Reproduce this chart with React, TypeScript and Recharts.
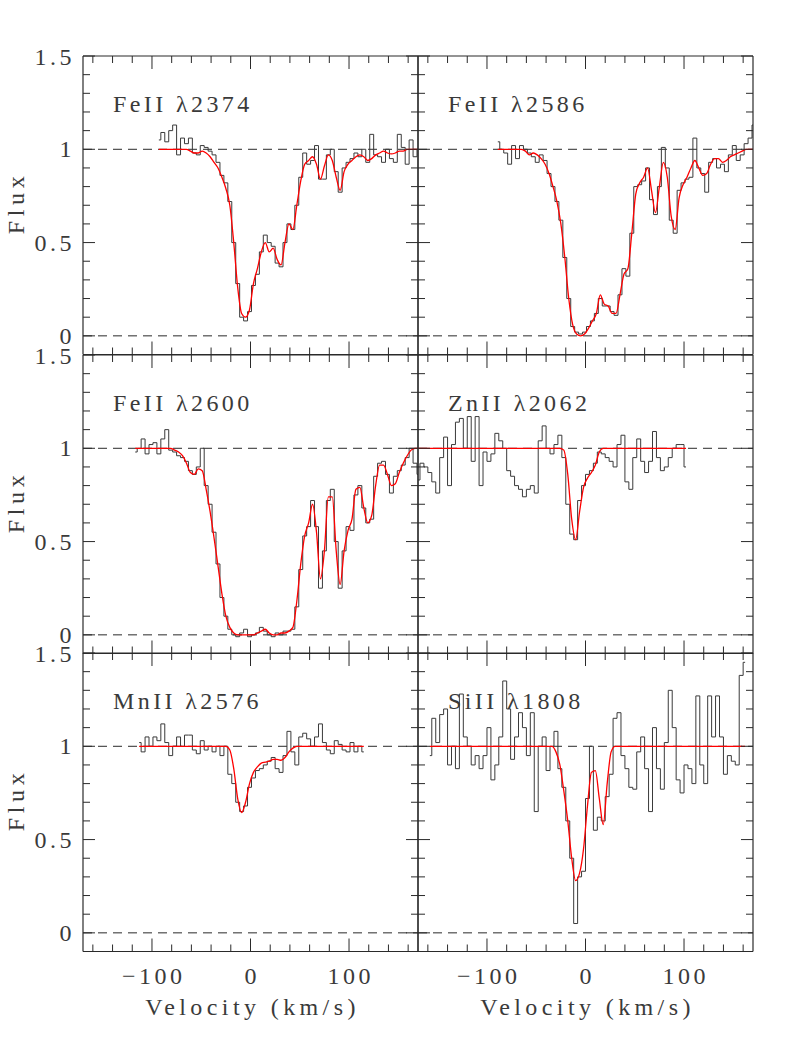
import { LineChart, Line, XAxis, YAxis, ReferenceLine } from 'recharts';

const INK = '#2a2a2a';
const DATA = '#3a3a3a';
const FIT = '#ff0000';
const TEXT = '#3a3a3a';
const FONT = '"Liberation Serif", "Times New Roman", serif';

const PLOT_W = 335;
const PLOT_H = 298.5;
const COL_X = [83, 418];
const ROW_Y = [56, 354.5, 653];
const PAD = 10;

const X_TICKS = [-160, -140, -120, -100, -80, -60, -40, -20, 0, 20, 40, 60, 80, 100, 120, 140, 160];
const Y_TICKS = [0, 0.1, 0.2, 0.3, 0.4, 0.5, 0.6, 0.7, 0.8, 0.9, 1, 1.1, 1.2, 1.3, 1.4, 1.5];
const BIN = 4; // km/s per pixel

// FeII 2374
const fe2374Start = -93;
const fe2374Flux = [
  1.05, 1.09, 1.04, 1.1, 1.13, 0.97, 1.06, 1.03, 1.06, 0.98,
  0.97, 1.02, 1.01, 0.99, 0.97, 0.93, 0.86, 0.82, 0.72, 0.5,
  0.28, 0.1, 0.08, 0.13, 0.27, 0.33, 0.45, 0.54, 0.5, 0.48,
  0.39, 0.37, 0.5, 0.6, 0.57, 0.7, 0.85, 0.98, 0.92, 0.94,
  1.02, 0.84, 0.84, 0.97, 1.0, 0.88, 0.77, 0.9, 0.93, 0.95,
  0.98, 0.96, 1.0, 0.93, 1.08, 0.97, 0.96, 0.93, 1.0, 0.95,
  0.93, 1.08, 1.01, 0.92, 1.05, 0.96, 1.0,
];
const fe2374Fit = [
  1.0, 1.0, 1.0, 1.0, 1.0, 1.0, 1.0, 1.0, 0.99, 0.98,
  0.98, 0.99, 0.98, 0.96, 0.93, 0.9, 0.85, 0.79, 0.7, 0.5,
  0.26, 0.12, 0.1, 0.14, 0.28, 0.36, 0.45, 0.5, 0.45, 0.47,
  0.41, 0.38, 0.5, 0.6, 0.57, 0.7, 0.83, 0.92, 0.94, 0.96,
  0.92, 0.84, 0.91, 0.97, 0.94, 0.85, 0.78, 0.88, 0.92, 0.94,
  0.96, 0.97, 0.96, 0.94, 0.95, 0.97, 0.98, 0.99, 0.98, 0.975,
  0.98, 0.99, 0.99, 1.0, 1.0, 1.0, 1.0,
];

// FeII 2586
const fe2586Start = -89;
const fe2586Flux = [
  1.04, 1.0, 0.98, 0.92, 1.02, 0.95, 1.02, 1.0, 0.98, 0.96,
  0.93, 0.97, 0.94, 0.87, 0.8, 0.72, 0.62, 0.42, 0.2, 0.05,
  0.02, 0.01, 0.02, 0.05, 0.08, 0.12, 0.2, 0.16, 0.16, 0.13,
  0.11, 0.22, 0.36, 0.32, 0.55, 0.8, 0.81, 0.83, 0.9, 0.73,
  0.65, 0.8, 1.01, 0.9, 0.62, 0.55, 0.78, 0.82, 0.84, 0.85,
  1.06, 0.9, 0.87, 0.77, 0.93, 0.95, 0.9, 0.92, 0.88, 0.97,
  1.02, 0.94, 0.97, 1.03, 1.06, 1.13,
];
const fe2586Fit = [
  1.0, 1.0, 1.0, 1.0, 1.0, 1.0, 1.0, 0.99, 0.97, 0.98,
  0.97, 0.95, 0.92, 0.87, 0.8, 0.72, 0.6, 0.42, 0.2, 0.06,
  0.01, 0.0, 0.01, 0.04, 0.08, 0.12, 0.22, 0.17, 0.16, 0.12,
  0.12, 0.22, 0.33, 0.36, 0.55, 0.76, 0.82, 0.85, 0.9, 0.78,
  0.66, 0.8, 0.93, 0.85, 0.64, 0.57, 0.74, 0.81, 0.85, 0.9,
  0.94, 0.9, 0.86, 0.87, 0.92, 0.95, 0.95, 0.93, 0.94, 0.96,
  0.97, 0.98, 0.99, 1.0, 1.0, 1.0,
];

// FeII 2600
const fe2600Start = -117;
const fe2600Flux = [
  0.98, 1.0, 1.05, 0.97, 1.02, 1.03, 0.97, 1.05, 1.1, 0.99,
  0.98, 0.96, 0.95, 0.93, 0.88, 0.86, 0.9, 1.0, 0.8, 0.7,
  0.55, 0.38, 0.2, 0.1, 0.03, 0.0, -0.01, 0.01, 0.03, -0.01,
  0.0, 0.01, 0.04, 0.02, 0.0, -0.01, 0.01, 0.0, 0.02, 0.02,
  0.03, 0.15, 0.35, 0.53, 0.58, 0.72, 0.58, 0.25, 0.45, 0.72,
  0.78, 0.5, 0.25, 0.45, 0.58, 0.56, 0.75, 0.8, 0.68, 0.6,
  0.62, 0.85, 0.92, 0.93, 0.86, 0.76, 0.85, 0.88, 0.91, 0.95,
  1.0, 0.92, 0.86,
];
const fe2600Fit = [
  1.0, 1.0, 1.0, 1.0, 1.0, 1.0, 1.0, 1.0, 1.0, 1.0,
  0.99, 0.98, 0.96, 0.92, 0.87, 0.86, 0.89, 0.88, 0.78, 0.66,
  0.52, 0.37, 0.22, 0.1, 0.04, 0.01, 0.0, 0.0, 0.0, 0.0,
  0.0, 0.01, 0.02, 0.03, 0.01, 0.0, 0.0, 0.01, 0.01, 0.02,
  0.04, 0.18, 0.38, 0.53, 0.6, 0.7, 0.55, 0.3, 0.45, 0.74,
  0.74, 0.45, 0.27, 0.45, 0.56, 0.62, 0.78, 0.79, 0.68, 0.6,
  0.64, 0.8, 0.91, 0.91, 0.86, 0.8, 0.81, 0.87, 0.92, 0.96,
  0.99, 1.0, 1.0,
];

// ZnII 2062
const zn2062Start = -170;
const zn2062Flux = [
  0.83, 0.92, 0.9, 0.87, 0.82, 0.76, 0.95, 1.06, 0.8, 1.02,
  1.14, 1.16, 1.0, 1.17, 0.93, 1.17, 0.8, 0.98, 0.93, 0.97,
  1.08, 1.04, 1.0, 0.88, 0.85, 0.8, 0.78, 0.74, 0.78, 0.8,
  0.76, 1.04, 1.12, 1.0, 0.97, 1.02, 1.07, 0.95, 0.7, 0.54,
  0.51, 0.72, 0.8, 0.86, 0.88, 0.92, 0.98, 0.97, 0.95, 0.93,
  0.9, 1.02, 1.07, 0.82, 0.78, 0.95, 1.05, 0.93, 0.87, 0.93,
  1.09, 0.95, 0.88, 0.9, 0.95, 1.0, 1.02, 1.02, 0.9,
];
const zn2062Fit = [
  1.0, 1.0, 1.0, 1.0, 1.0, 1.0, 1.0, 1.0, 1.0, 1.0,
  1.0, 1.0, 1.0, 1.0, 1.0, 1.0, 1.0, 1.0, 1.0, 1.0,
  1.0, 1.0, 1.0, 1.0, 1.0, 1.0, 1.0, 1.0, 1.0, 1.0,
  1.0, 1.0, 1.0, 1.0, 1.0, 1.0, 1.0, 0.99, 0.86, 0.62,
  0.51, 0.66, 0.79, 0.84, 0.87, 0.91, 0.98, 1.0, 1.0, 1.0,
  1.0, 1.0, 1.0, 1.0, 1.0, 1.0, 1.0, 1.0, 1.0, 1.0,
  1.0, 1.0, 1.0, 1.0, 1.0, 1.0, 1.0, 1.0, 1.0,
];

// MnII 2576
const mn2576Start = -113;
const mn2576Flux = [
  1.02, 0.97, 1.05, 1.0, 1.05, 1.03, 1.12, 1.02, 0.95, 1.0,
  1.05, 1.0, 1.06, 1.06, 0.98, 0.96, 1.03, 0.98, 1.0, 0.97,
  1.0, 0.95, 1.0, 0.85, 0.8, 0.7, 0.65, 0.68, 0.78, 0.83,
  0.87, 0.88, 0.9, 0.92, 0.94, 0.88, 0.86, 0.95, 1.08, 0.97,
  0.9, 1.05, 1.07, 1.04, 1.0, 1.05, 1.12, 1.02, 0.98, 0.96,
  1.03, 1.01, 0.98, 0.97, 1.02, 0.97, 1.0, 0.97,
];
const mn2576Fit = [
  1.0, 1.0, 1.0, 1.0, 1.0, 1.0, 1.0, 1.0, 1.0, 1.0,
  1.0, 1.0, 1.0, 1.0, 1.0, 1.0, 1.0, 1.0, 1.0, 1.0,
  1.0, 1.0, 1.0, 0.98, 0.88, 0.72, 0.645, 0.7, 0.8, 0.86,
  0.89, 0.91, 0.915, 0.92, 0.93, 0.93, 0.925, 0.94, 0.97, 0.99,
  1.0, 1.0, 1.0, 1.0, 1.0, 1.0, 1.0, 1.0, 1.0, 1.0,
  1.0, 1.0, 1.0, 1.0, 1.0, 1.0, 1.0, 1.0,
];

// SiII 1808
const si1808Start = -158;
const si1808Flux = [
  0.95, 1.15, 1.02, 1.17, 1.2, 0.9, 1.0, 0.88, 1.28, 1.05,
  1.0, 0.9, 0.95, 0.88, 0.95, 1.1, 0.82, 0.9, 1.05, 1.35,
  1.2, 0.93, 1.05, 1.18, 1.1, 0.95, 1.18, 0.65, 1.0, 1.05,
  0.87, 1.0, 1.08, 0.88, 0.78, 0.6, 0.4, 0.05, 0.3, 0.33,
  0.72, 1.0, 0.55, 0.62, 0.6, 0.73, 0.85, 1.15, 1.18, 0.95,
  0.88, 0.78, 0.77, 0.97, 1.05, 0.88, 0.65, 1.1, 0.88, 0.77,
  1.02, 1.3, 1.1, 0.82, 0.75, 0.9, 0.88, 0.8, 1.27, 0.9,
  0.8, 1.27, 1.05, 1.27, 1.05, 0.85, 0.95, 0.92, 0.9, 1.38,
  1.45,
];
const si1808Fit = [
  1.0, 1.0, 1.0, 1.0, 1.0, 1.0, 1.0, 1.0, 1.0, 1.0,
  1.0, 1.0, 1.0, 1.0, 1.0, 1.0, 1.0, 1.0, 1.0, 1.0,
  1.0, 1.0, 1.0, 1.0, 1.0, 1.0, 1.0, 1.0, 1.0, 1.0,
  1.0, 1.0, 0.97, 0.9, 0.76, 0.6, 0.4, 0.28, 0.32, 0.45,
  0.68, 0.86, 0.87, 0.72, 0.58, 0.8, 0.97, 1.0, 1.0, 1.0,
  1.0, 1.0, 1.0, 1.0, 1.0, 1.0, 1.0, 1.0, 1.0, 1.0,
  1.0, 1.0, 1.0, 1.0, 1.0, 1.0, 1.0, 1.0, 1.0, 1.0,
  1.0, 1.0, 1.0, 1.0, 1.0, 1.0, 1.0, 1.0, 1.0, 1.0,
  1.0,
];

const panels = [
  { name: 'FeII λ2374', start: fe2374Start, flux: fe2374Flux, fit: fe2374Fit },
  { name: 'FeII λ2586', start: fe2586Start, flux: fe2586Flux, fit: fe2586Fit },
  { name: 'FeII λ2600', start: fe2600Start, flux: fe2600Flux, fit: fe2600Fit },
  { name: 'ZnII λ2062', start: zn2062Start, flux: zn2062Flux, fit: zn2062Fit },
  { name: 'MnII λ2576', start: mn2576Start, flux: mn2576Flux, fit: mn2576Fit },
  { name: 'SiII λ1808', start: si1808Start, flux: si1808Flux, fit: si1808Fit },
];

const txt = (spacing: number) => ({ fontFamily: FONT, fontSize: 24, fill: TEXT, letterSpacing: spacing });

const isMajorX = (v: number) => v % 100 === 0;
const isMajorY = (v: number) => Math.abs(v * 2 - Math.round(v * 2)) < 1e-6;
const fmtX = (v: number) => (v < 0 ? `\u2212${-v}` : `${v}`);
const fmtY = (v: number) => `${Math.round(v * 10) / 10}`;

const BottomTick = ({ x, y, payload, labelled }: any) => {
  const major = isMajorX(payload.value);
  return (
    <g>
      <line x1={x} x2={x} y1={y} y2={y - (major ? 13 : 7)} stroke={INK} />
      {major && labelled && (
        <text x={x + 1.7} y={y + 32} textAnchor="middle" style={txt(3.5)}>
          {fmtX(payload.value)}
        </text>
      )}
    </g>
  );
};

// top axis is 1px tall, so its y sits 1px above the frame
const TopTick = ({ x, y, payload }: any) => {
  const major = isMajorX(payload.value);
  return <line x1={x} x2={x} y1={y} y2={y + (major ? 13 : 7)} stroke={INK} />;
};

const LeftTick = ({ x, y, payload, labelled }: any) => {
  const major = isMajorY(payload.value);
  const top = payload.value === 1.5;
  return (
    <g>
      <line x1={x} x2={x + (major ? 12 : 7)} y1={y} y2={y} stroke={INK} />
      {major && labelled && (
        <text x={x - 8} y={y + (top ? 9 : 8)} textAnchor="end" style={txt(3.5)}>
          {fmtY(payload.value)}
        </text>
      )}
    </g>
  );
};

const RightTick = ({ x, y, payload }: any) => {
  const major = isMajorY(payload.value);
  return <line x1={x} x2={x - (major ? 12 : 7)} y1={y} y2={y} stroke={INK} />;
};

const SpecPanel = ({ panel, row, col }: any) => {
  // extra room beyond the pad, for tick labels and axis titles
  const leftSpace = col === 0 ? 83 : 0;
  const bottomSpace = row === 2 ? 90 : 0;
  const width = PAD + leftSpace + PLOT_W + PAD;
  const height = PAD + PLOT_H + bottomSpace + PAD;
  // recharts skips axes of size 0, so the bare frame sides get 1px
  const leftW = col === 0 ? 83 : 1;
  const bottomH = row === 2 ? 90 : 1;
  const margin = {
    top: PAD - 1,
    right: PAD - 1,
    bottom: row === 2 ? PAD : PAD - 1,
    left: col === 0 ? PAD : PAD - 1,
  };
  const pixels = panel.flux.map((f: number, i: number) => ({ v: panel.start + i * BIN, f }));
  const model = panel.fit.map((f: number, i: number) => ({ v: panel.start + i * BIN, f }));
  const axisLine = { stroke: INK, strokeWidth: 1.2 };

  return (
    <div style={{ position: 'absolute', left: COL_X[col] - leftSpace - PAD, top: ROW_Y[row] - PAD }}>
      <LineChart width={width} height={height} margin={margin}>
        <XAxis
          xAxisId="bottom"
          orientation="bottom"
          dataKey="v"
          type="number"
          domain={[-170, 170]}
          allowDataOverflow
          ticks={X_TICKS}
          interval={0}
          height={bottomH}
          axisLine={axisLine}
          tickLine={false}
          tickSize={0}
          tickMargin={0}
          tick={(p: any) => <BottomTick {...p} labelled={row === 2} />}
          label={
            row === 2
              ? ({ viewBox }: any) => (
                  <text x={viewBox.x + viewBox.width / 2 + 2} y={viewBox.y + 63.5} textAnchor="middle" style={txt(4.4)}>
                    Velocity (km/s)
                  </text>
                )
              : undefined
          }
        />
        <XAxis
          xAxisId="top"
          orientation="top"
          dataKey="v"
          type="number"
          domain={[-170, 170]}
          allowDataOverflow
          ticks={X_TICKS}
          interval={0}
          height={1}
          axisLine={axisLine}
          tickLine={false}
          tickSize={0}
          tickMargin={0}
          tick={(p: any) => <TopTick {...p} />}
          label={({ viewBox }: any) => (
            <text x={viewBox.x + 30} y={viewBox.y + viewBox.height + 56} style={txt(3.4)}>
              {panel.name}
            </text>
          )}
        />
        <YAxis
          yAxisId="left"
          orientation="left"
          type="number"
          domain={[-0.1, 1.5]}
          allowDataOverflow
          ticks={Y_TICKS}
          interval={0}
          width={leftW}
          axisLine={axisLine}
          tickLine={false}
          tickSize={0}
          tickMargin={0}
          tick={(p: any) => <LeftTick {...p} labelled={col === 0} />}
          label={
            col === 0
              ? ({ viewBox }: any) => {
                  const x = viewBox.x + 23.5;
                  const y = viewBox.y + viewBox.height / 2;
                  return (
                    <text x={x} y={y} dx={2.3} textAnchor="middle" transform={`rotate(-90 ${x} ${y})`} style={txt(4.6)}>
                      Flux
                    </text>
                  );
                }
              : undefined
          }
        />
        <YAxis
          yAxisId="right"
          orientation="right"
          type="number"
          domain={[-0.1, 1.5]}
          allowDataOverflow
          ticks={Y_TICKS}
          interval={0}
          width={1}
          axisLine={axisLine}
          tickLine={false}
          tickSize={0}
          tickMargin={0}
          tick={(p: any) => <RightTick {...p} />}
        />
        <ReferenceLine xAxisId="bottom" yAxisId="left" y={1} stroke={INK} strokeDasharray="9 6" />
        <ReferenceLine xAxisId="bottom" yAxisId="left" y={0} stroke={INK} strokeDasharray="9 6" />
        <Line
          xAxisId="bottom"
          yAxisId="left"
          data={pixels}
          dataKey="f"
          type="step"
          stroke={DATA}
          strokeWidth={1}
          dot={false}
          isAnimationActive={false}
        />
        <Line
          xAxisId="bottom"
          yAxisId="left"
          data={model}
          dataKey="f"
          type="monotone"
          stroke={FIT}
          strokeWidth={1.3}
          dot={false}
          isAnimationActive={false}
        />
      </LineChart>
    </div>
  );
};

export default function App() {
  return (
    <div style={{ position: 'absolute', left: 0, top: 0, width: 795, height: 1059, overflow: 'hidden', background: '#fff' }}>
      <style>{'.recharts-surface { overflow: visible; }'}</style>
      {panels.map((panel, k) => (
        <SpecPanel key={panel.name} panel={panel} row={Math.floor(k / 2)} col={k % 2} />
      ))}
    </div>
  );
}
